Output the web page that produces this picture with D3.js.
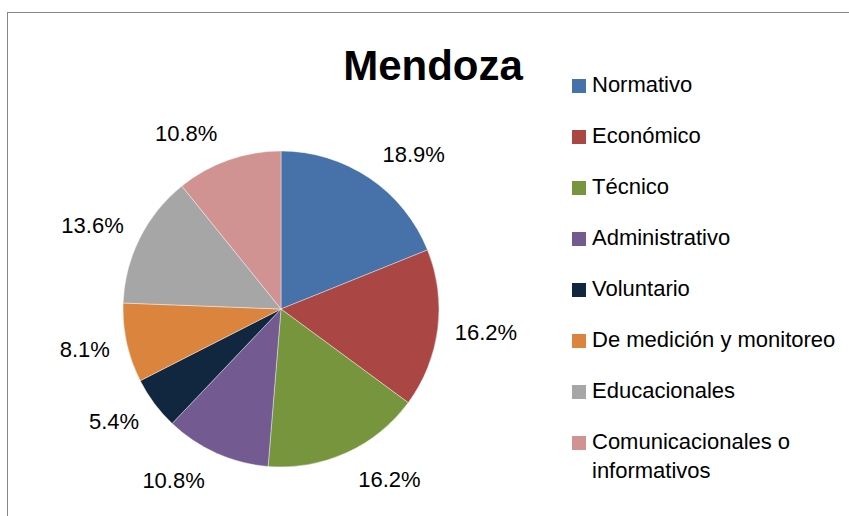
<!DOCTYPE html>
<html>
<head>
<meta charset="utf-8">
<script src="https://cdn.jsdelivr.net/npm/d3@7"></script>
<style>
  body { margin: 0; background: #fff; }
  svg { display: block; font-family: "Liberation Sans", Arial, sans-serif; }
</style>
</head>
<body>
<svg id="chart" width="849" height="516"></svg>
<script>
// data
const categories = ["Normativo", "Económico", "Técnico", "Administrativo", "Voluntario",
  "De medición y monitoreo", "Educacionales", "Comunicacionales o informativos"];
const values = [18.9, 16.2, 16.2, 10.8, 5.4, 8.1, 13.6, 10.8];
const legendLines = [["Normativo"], ["Económico"], ["Técnico"], ["Administrativo"], ["Voluntario"],
  ["De medición y monitoreo"], ["Educacionales"], ["Comunicacionales o", "informativos"]];
const colors = ["#4672a9", "#aa4644", "#77953d", "#735a90", "#11263f", "#db843d", "#a6a6a6", "#d09392"];
const title = "Mendoza";

const svg = d3.select("#chart");
const cx = 281, cy = 309, radius = 158;

// chart frame (runs off the right and bottom edges)
svg.append("rect")
  .attr("x", 7.5).attr("y", 12.5)
  .attr("width", 900).attr("height", 600)
  .attr("fill", "none")
  .attr("stroke", "#868686");

svg.append("text")
  .attr("x", 433).attr("y", 80)
  .attr("text-anchor", "middle")
  .style("font-size", "42px")
  .style("font-weight", "bold")
  .text(title);

const color = d3.scaleOrdinal().domain(categories).range(colors);

const pie = d3.pie().sort(null).value(d => d.value);
const arcs = pie(categories.map((c, i) => ({ name: c, value: values[i] })));
const arc = d3.arc().innerRadius(0).outerRadius(radius);

const g = svg.append("g").attr("transform", `translate(${cx},${cy})`);

g.selectAll("path")
  .data(arcs)
  .enter()
  .append("path")
  .attr("d", arc)
  .attr("fill", d => color(d.data.name))
  .attr("stroke", "#fff")
  .attr("stroke-width", 0.4);

// outside labels, pushed sideways like the best-fit placement
const fmt = d3.format(".1f");
g.selectAll("text.lbl")
  .data(arcs)
  .enter()
  .append("text")
  .attr("class", "lbl")
  .each(function (d) {
    const a = (d.startAngle + d.endAngle) / 2;
    const s = Math.sin(a), c = Math.cos(a);
    d3.select(this)
      .attr("x", s * (radius + 9) + (s >= 0 ? 8 : -8))
      .attr("y", -c * 187)
      .attr("dy", "0.36em")
      .attr("text-anchor", s >= 0 ? "start" : "end");
  })
  .style("font-size", "22px")
  .text(d => fmt(d.data.value) + "%");

// legend
const legend = svg.append("g").attr("transform", "translate(572,79)");
const item = legend.selectAll("g")
  .data(categories)
  .enter()
  .append("g")
  .attr("transform", (d, i) => `translate(0,${i * 51})`);

item.append("rect")
  .attr("width", 14).attr("height", 14)
  .attr("fill", d => color(d));

item.append("text")
  .attr("x", 20).attr("y", 13)
  .style("font-size", "22px")
  .selectAll("tspan")
  .data((d, i) => legendLines[i])
  .enter()
  .append("tspan")
  .attr("x", 20)
  .attr("dy", (d, j) => j === 0 ? 0 : 29)
  .text(d => d);
</script>
</body>
</html>
